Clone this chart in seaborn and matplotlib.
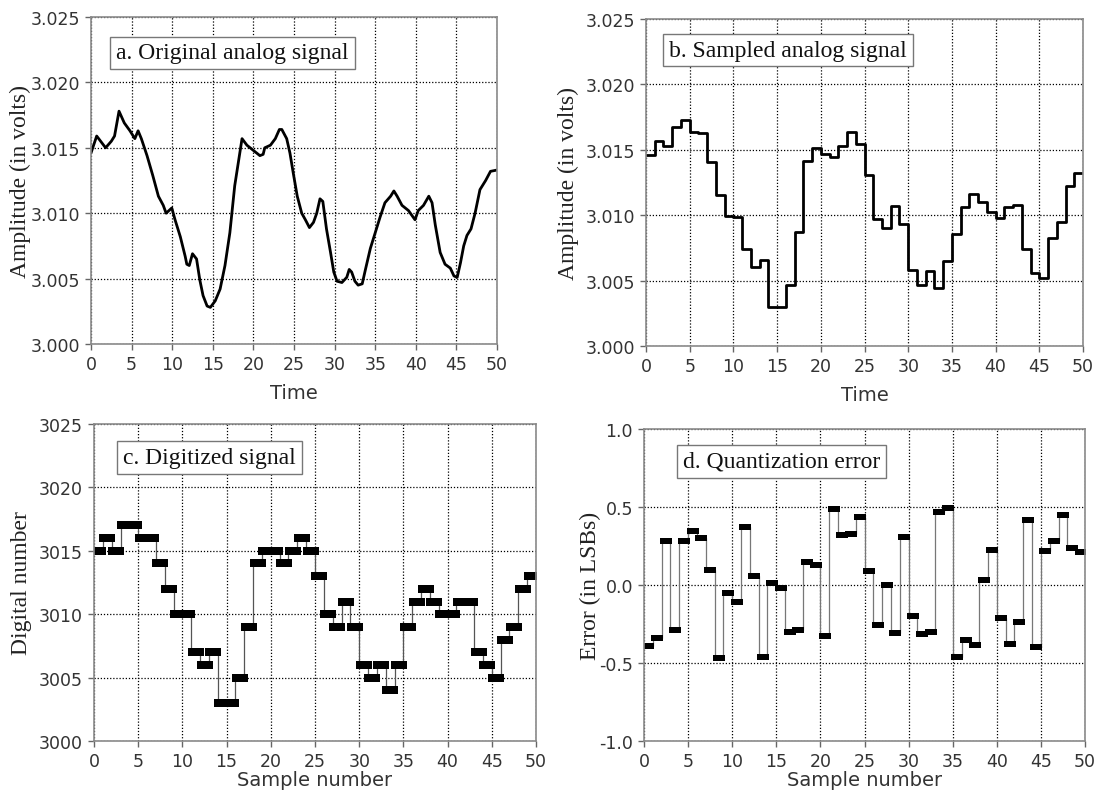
import numpy as np
import matplotlib
matplotlib.use('Agg')
import matplotlib.pyplot as plt
from matplotlib.ticker import FormatStrFormatter
import seaborn as sns

# a. sinal analógico original (tempo, volts)
tempo_a = [0, 0.7, 1.8, 2.5, 2.9, 3.45, 4.1, 4.8, 5.4, 5.8, 6.2, 6.9, 7.6, 8.3, 8.9,
           9.25, 9.95, 10.35, 11.0, 11.6, 11.8, 12.1, 12.5, 13.0, 13.4, 13.8, 14.3, 14.7,
           15.3, 15.9, 16.5, 17.1, 17.7, 18.2, 18.6, 19.2, 20.0, 20.8, 21.2, 21.4, 22.1,
           22.7, 23.2, 23.5, 24.1, 24.5, 24.9, 25.4, 25.95, 26.4, 26.9, 27.4, 27.8, 28.2,
           28.55, 29.0, 29.5, 29.9, 30.3, 30.9, 31.5, 31.8, 32.1, 32.5, 32.9, 33.4, 33.8,
           34.4, 35.0, 35.6, 36.2, 36.9, 37.3, 37.7, 38.3, 39.1, 39.9, 40.3, 40.95, 41.6,
           42.0, 42.4, 43.0, 43.6, 44.25, 44.7, 45.1, 45.5, 45.9, 46.3, 46.8, 47.3, 47.9,
           48.6, 49.2, 50]
amp_a = [3.0146, 3.0159, 3.0150, 3.0155, 3.0159, 3.0178, 3.0169, 3.0163, 3.0157, 3.0163,
         3.0157, 3.0144, 3.0129, 3.0113, 3.0106, 3.0100, 3.0104, 3.0095, 3.0082, 3.0067,
         3.0061, 3.0060, 3.0069, 3.0065, 3.0049, 3.0037, 3.0029, 3.0028, 3.0033, 3.0042,
         3.0060, 3.0085, 3.0121, 3.0141, 3.0157, 3.0152, 3.0148, 3.0144, 3.0145, 3.0150,
         3.0152, 3.0157, 3.0164, 3.0164, 3.0157, 3.0146, 3.0131, 3.0113, 3.0100, 3.0095,
         3.0089, 3.0093, 3.0100, 3.0111, 3.0109, 3.0088, 3.0070, 3.0055, 3.0048, 3.0047,
         3.0051, 3.0057, 3.0055, 3.0048, 3.0045, 3.0046, 3.0057, 3.0073, 3.0085, 3.0097,
         3.0108, 3.0113, 3.0117, 3.0113, 3.0106, 3.0102, 3.0095, 3.0102, 3.0106, 3.0113,
         3.0108, 3.0091, 3.0070, 3.0061, 3.0058, 3.0052, 3.0051, 3.0062, 3.0075, 3.0083,
         3.0088, 3.0100, 3.0118, 3.0125, 3.0132, 3.0133]

# b. sinal amostrado (um valor por intervalo de amostra)
amp_b = [3.01461, 3.01566, 3.01528, 3.01671, 3.01728, 3.01635, 3.01630, 3.01410, 3.01153,
         3.00995, 3.00989, 3.00738, 3.00606, 3.00654, 3.00301, 3.00298, 3.00470, 3.00871,
         3.01415, 3.01513, 3.01467, 3.01448, 3.01532, 3.01633, 3.01544, 3.01309, 3.00974,
         3.00900, 3.01070, 3.00931, 3.00580, 3.00469, 3.00570, 3.00447, 3.00650, 3.00854,
         3.01065, 3.01162, 3.01103, 3.01023, 3.00979, 3.01062, 3.01077, 3.00742, 3.00560,
         3.00522, 3.00828, 3.00945, 3.01224, 3.01321]

# c. sinal digitalizado
digital = [3015, 3016, 3015, 3017, 3017, 3016, 3016, 3014, 3012, 3010, 3010, 3007, 3006,
           3007, 3003, 3003, 3005, 3009, 3014, 3015, 3015, 3014, 3015, 3016, 3015, 3013,
           3010, 3009, 3011, 3009, 3006, 3005, 3006, 3004, 3006, 3009, 3011, 3012, 3011,
           3010, 3010, 3011, 3011, 3007, 3006, 3005, 3008, 3009, 3012, 3013]

# d. erro de quantização (LSBs)
erro = [-0.39, -0.34, 0.28, -0.29, 0.28, 0.345, 0.30, 0.095, -0.47, -0.05, -0.11, 0.375,
        0.055, -0.46, 0.01, -0.02, -0.30, -0.29, 0.145, 0.13, -0.33, 0.485, 0.32, 0.33,
        0.435, 0.09, -0.255, 0.0, -0.305, 0.31, -0.20, -0.315, -0.30, 0.465, 0.495, -0.46,
        -0.355, -0.385, 0.03, 0.225, -0.21, -0.38, -0.235, 0.415, -0.40, 0.215, 0.28, 0.45,
        0.235, 0.21]

amostras = np.arange(len(digital))

sns.set_style('white')
plt.rcParams['axes.unicode_minus'] = False
fonte_sans = ['Liberation Sans Narrow', 'DejaVu Sans']
fonte_serif = ['Liberation Serif', 'DejaVu Serif']
plt.rcParams['font.family'] = fonte_sans

fig = plt.figure(figsize=(11.04, 8.04), dpi=100)
W, H = 1104, 804

def cria_eixo(esq, dir_, topo, base):
    return fig.add_axes([esq / W, 1 - base / H, (dir_ - esq) / W, (base - topo) / H])

ax_a = cria_eixo(91, 497, 18, 345)
ax_b = cria_eixo(646, 1083, 20, 347)
ax_c = cria_eixo(94, 536, 425, 742)
ax_d = cria_eixo(644, 1085, 430, 742)

sns.lineplot(x=tempo_a, y=amp_a, ax=ax_a, color='black', lw=2, sort=False)

sns.lineplot(x=np.arange(len(amp_b) + 1), y=amp_b + [amp_b[-1]], ax=ax_b,
             color='black', lw=2, drawstyle='steps-post')

barra_c = [(-1, -0.47), (1, -0.47), (1, 0.47), (-1, 0.47), (-1, -0.47)]
sns.lineplot(x=amostras + 0.5, y=digital, ax=ax_c, color='#555555', lw=0.9,
             drawstyle='steps-mid', marker=barra_c, markersize=11,
             markerfacecolor='black', markeredgecolor='black', markeredgewidth=0)

barra_d = [(-1, -0.42), (1, -0.42), (1, 0.42), (-1, 0.42), (-1, -0.42)]
sns.lineplot(x=amostras + 0.5, y=erro, ax=ax_d, color='#777777', lw=0.9,
             drawstyle='steps-mid', marker=barra_d, markersize=9,
             markerfacecolor='black', markeredgecolor='black', markeredgewidth=0)

# eixo, rótulos, limites, ticks, formato, título, posição do título, posição dos rótulos
eixos = [
    (ax_a, 'Time', 'Amplitude (in volts)', (3.0, 3.025), np.arange(3.0, 3.0251, 0.005), '%.3f',
     'a. Original analog signal', (0.062, 0.89), (-0.175, -0.147)),
    (ax_b, 'Time', 'Amplitude (in volts)', (3.0, 3.025), np.arange(3.0, 3.0251, 0.005), '%.3f',
     'b. Sampled analog signal', (0.053, 0.905), (-0.178, -0.147)),
    (ax_c, 'Sample number', 'Digital number', (3000, 3025), np.arange(3000, 3026, 5), '%d',
     'c. Digitized signal', (0.066, 0.894), (-0.163, -0.12)),
    (ax_d, 'Sample number', 'Error (in LSBs)', (-1.0, 1.0), np.arange(-1.0, 1.01, 0.5), '%.1f',
     'd. Quantization error', (0.088, 0.896), (-0.122, -0.122)),
]

for ax, xl, yl, ylim, yticks, fmt, titulo, pos_t, pos_l in eixos:
    ax.set_xlim(0, 50)
    ax.set_ylim(*ylim)
    ax.set_xticks(np.arange(0, 51, 5))
    ax.set_yticks(yticks)
    ax.yaxis.set_major_formatter(FormatStrFormatter(fmt))
    ax.grid(True, color='black', ls=(0, (1, 1.5)), lw=0.9)
    for sp in ax.spines.values():
        sp.set_color('#8a8a8a')
        sp.set_linewidth(1.2)
    ax.tick_params(axis='both', direction='out', length=4, width=1, color='#666666',
                   labelsize=12.5, labelcolor='#333333', pad=4,
                   bottom=True, left=True)
    ax.set_xlabel(xl, fontsize=14, color='#333333')
    ax.set_ylabel(yl, fontsize=17, family=fonte_serif, color='#222222')
    ax.yaxis.set_label_coords(pos_l[0], 0.5)
    ax.xaxis.set_label_coords(0.5, pos_l[1])
    ax.xaxis.label.set_va('center')
    ax.yaxis.label.set_va('center')
    ax.text(pos_t[0], pos_t[1], titulo, transform=ax.transAxes, fontsize=17,
            family=fonte_serif, ha='left', va='center', color='#111111',
            bbox=dict(boxstyle='square,pad=0.25', fc='white', ec='#777777', lw=1))

fig.savefig('out.png', dpi=100)
